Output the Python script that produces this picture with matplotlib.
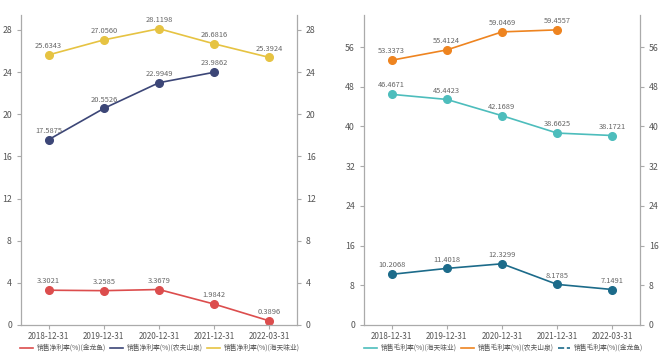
import matplotlib.pyplot as plt
from matplotlib.lines import Line2D

plt.rcParams['font.family'] = ['Noto Sans CJK SC', 'DejaVu Sans']

# ---- data ----
dates = ['2018-12-31', '2019-12-31', '2020-12-31', '2021-12-31', '2022-03-31']

net_jly = [3.3021, 3.2585, 3.3679, 1.9842, 0.3896]
net_nfsq = [17.5875, 20.5526, 22.9949, 23.9862, None]
net_htwy = [25.6343, 27.0560, 28.1198, 26.6816, 25.3924]

gross_htwy = [46.4671, 45.4423, 42.1689, 38.6625, 38.1721]
gross_nfsq = [53.3373, 55.4124, 59.0469, 59.4557, None]
gross_jly = [10.2068, 11.4018, 12.3299, 8.1785, 7.1491]

left_series = [
    ('销售净利率(%)(金龙鱼)', net_jly, '#dc4d4d'),
    ('销售净利率(%)(农夫山泉)', net_nfsq, '#3c4677'),
    ('销售净利率(%)(海天味业)', net_htwy, '#e6c342'),
]
right_series = [
    ('销售毛利率(%)(海天味业)', gross_htwy, '#4dbdbc'),
    ('销售毛利率(%)(农夫山泉)', gross_nfsq, '#ee8420'),
    ('销售毛利率(%)(金龙鱼)', gross_jly, '#1c6b8a'),
]

TXT = '#555555'
SP = '#aaaaaa'

fig = plt.figure(figsize=(6.6, 3.56), dpi=100)
axL = fig.add_axes([21 / 660, 31 / 356, 276 / 660, 310 / 356])
axR = fig.add_axes([364 / 660, 31 / 356, 276 / 660, 310 / 356])


def draw(ax, series, ymax, step):
    xs = list(range(len(dates)))
    for name, vals, col in series:
        px = [x for x, v in zip(xs, vals) if v is not None]
        py = [v for v in vals if v is not None]
        ax.plot(px, py, color=col, lw=1.2, marker='o', ms=5.5, label=name)
        for x, v in zip(px, py):
            ax.annotate(f'{v:.4f}', (x, v), xytext=(0, 3.5), textcoords='offset points',
                        ha='center', va='bottom', fontsize=5.4, color='#666666')
    ax.set_xlim(-0.5, len(dates) - 0.5)
    ax.set_ylim(0, ymax)
    ax.set_xticks(xs)
    ax.set_xticklabels(dates)
    ax.set_yticks(range(0, int(ymax) + 1, step))
    ax.tick_params(axis='both', labelsize=6.3, colors=SP, labelcolor=TXT, length=3, width=0.8)
    ax.tick_params(axis='x', labelsize=5.8, pad=2)
    ax.tick_params(axis='y', right=True, labelright=True)
    for s in ['left', 'right', 'bottom']:
        ax.spines[s].set_color(SP)
        ax.spines[s].set_linewidth(0.9)
    ax.spines['top'].set_visible(False)


draw(axL, left_series, 29.42, 4)
draw(axR, right_series, 62.45, 8)

# legends
leg_kw = dict(ncol=3, frameon=False, fontsize=4.9, labelcolor=TXT, handlelength=1.9,
              handletextpad=0.55, columnspacing=0.6, borderpad=0, borderaxespad=0)
hL = [Line2D([], [], color=c, lw=1.2) for _, _, c in left_series]
fig.legend(hL, [n for n, _, _ in left_series], loc='center left',
           bbox_to_anchor=(20 / 660, 1 - 348 / 356), **leg_kw)

hR = [Line2D([], [], color=right_series[0][2], lw=1.2),
      Line2D([], [], color=right_series[1][2], lw=1.2),
      Line2D([], [], color=right_series[2][2], lw=1.2, ls='--')]
fig.legend(hR, [n for n, _, _ in right_series], loc='center left',
           bbox_to_anchor=(364 / 660, 1 - 348 / 356), **leg_kw)

fig.savefig('out.png', dpi=100)
